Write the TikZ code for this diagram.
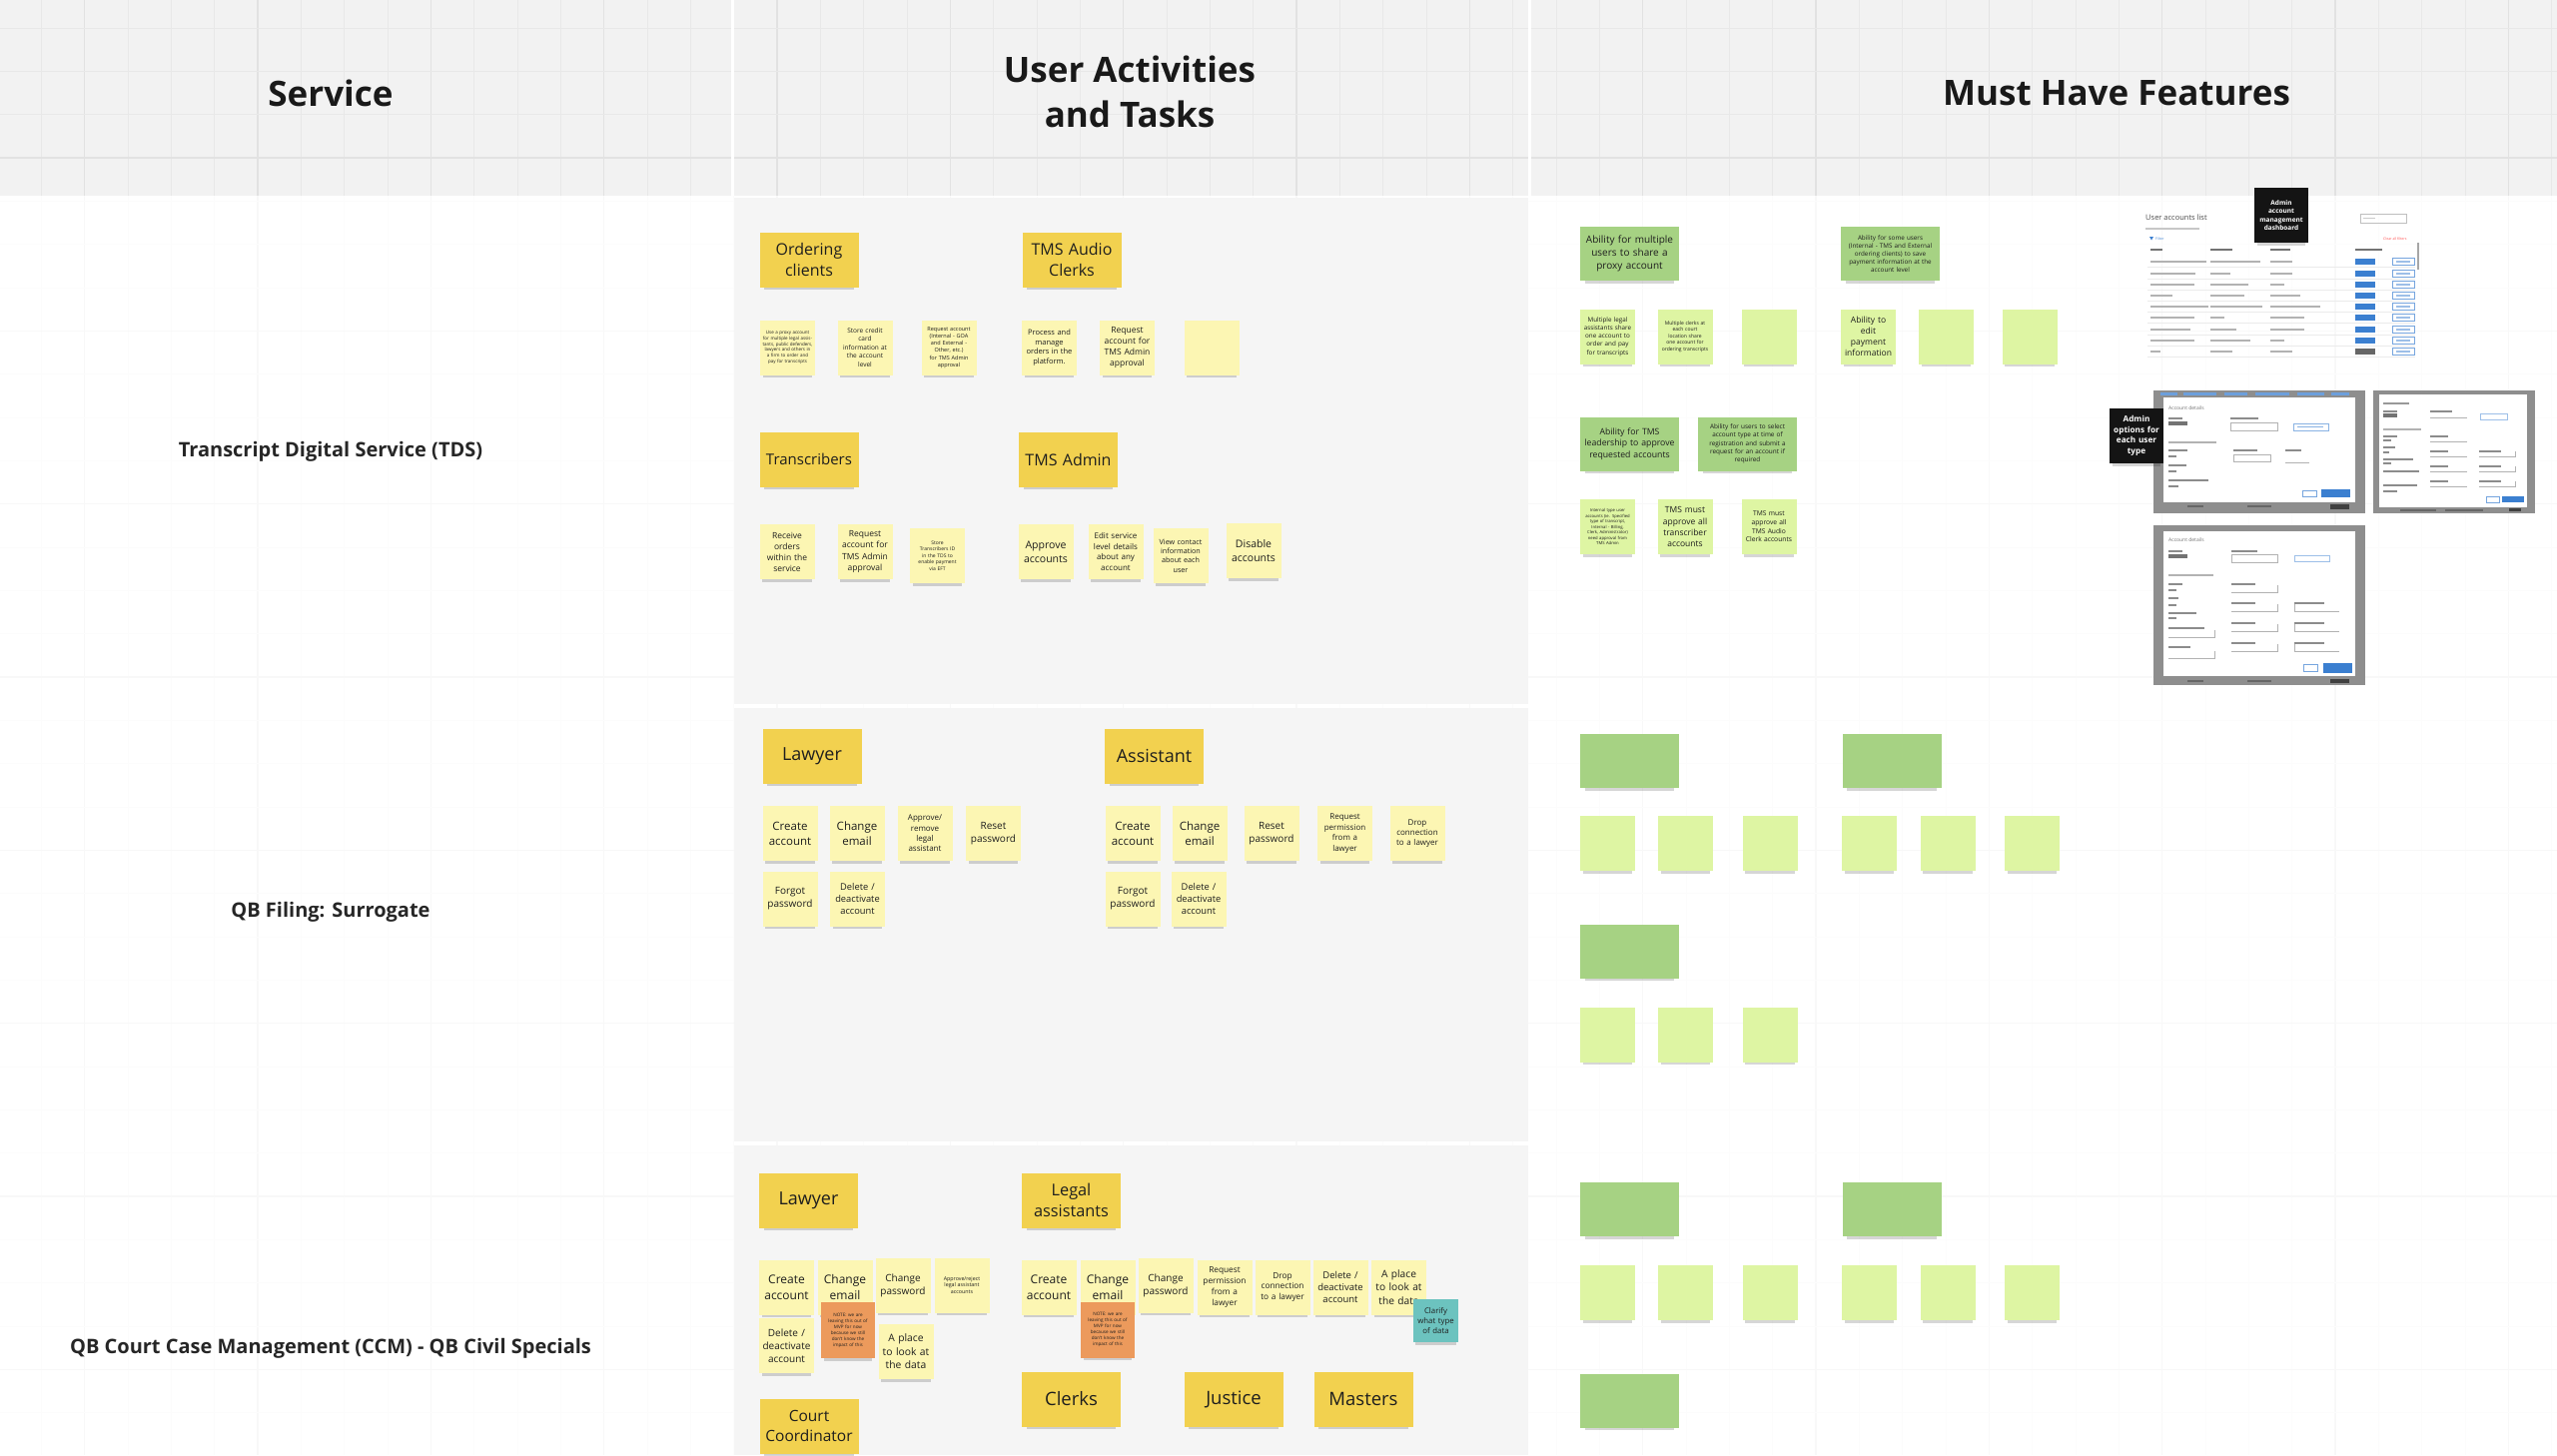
\documentclass[tikz,border=0pt]{standalone}
\usepackage{fontspec}
\setmainfont{Open Sans}
\setsansfont{Open Sans}
\usetikzlibrary{shadows}
\definecolor{roleY}{HTML}{F2D14F}
\definecolor{taskY}{HTML}{FCF6B3}
\definecolor{greenD}{HTML}{A6D283}
\definecolor{greenL}{HTML}{DEF5A3}
\definecolor{orangeN}{HTML}{EC9A5C}
\definecolor{tealN}{HTML}{6CC3BF}
\definecolor{txt}{HTML}{1E1E1E}
\definecolor{hdrbg}{HTML}{F2F2F2}
\definecolor{hdrmin}{HTML}{E8E8E8}
\definecolor{hdrmaj}{HTML}{E2E2E2}
\definecolor{colbg}{HTML}{F5F5F5}
\definecolor{bgmin}{HTML}{FCFCFC}
\definecolor{bgmaj}{HTML}{F8F8F8}
\definecolor{shotgray}{HTML}{8E8E8E}
\definecolor{btnblue}{HTML}{3B7FD0}
\definecolor{lblack}{HTML}{141414}
\newcommand\fsz[1]{\fontsize{#1}{#1}\selectfont\baselineskip=1.3\baselineskip\relax}
\begin{document}
\begin{tikzpicture}[x=1pt,y=-1pt,
  note/.style={rectangle, inner sep=1pt, align=center, text=txt,
    general shadow={shadow scale=0.9, shadow yshift=-6pt, fill=black, opacity=0.16}},
  role/.style={note, fill=roleY, minimum width=99pt, minimum height=55pt, text width=94pt},
  task/.style={note, fill=taskY, minimum width=55pt, minimum height=55pt, text width=51pt},
  gbig/.style={note, fill=greenD, minimum width=99pt, minimum height=54pt, text width=93pt},
  gsmall/.style={note, fill=greenL, minimum width=55pt, minimum height=55pt, text width=51pt},
  onote/.style={note, fill=orangeN, minimum width=54pt, minimum height=56pt, text width=50pt},
  tnote/.style={note, fill=tealN, minimum width=45pt, minimum height=43pt, text width=42pt},
  blab/.style={note, fill=lblack, text=white, minimum width=54pt, minimum height=55pt, text width=52pt},
  hdr/.style={align=center, text=black!90, font=\bfseries\fsz{35}},
  rowlab/.style={align=center, text=black!85, font=\bfseries\fsz{20}},
  shottxt/.style={anchor=west, inner sep=0pt, text=black!70}
]
\useasboundingbox (0,0) rectangle (2560,1457);
\fill[white] (0,0) rectangle (2560,1457);
% ---------- body grid ----------
\foreach \k in {0,...,59}{
  \pgfmathsetmacro\xx{-2+43.333*\k}
  \pgfmathtruncatemacro\mm{mod(\k,4)}
  \ifnum\mm=2\relax
    \draw[line width=1.2, color=bgmaj] (\xx,196) -- (\xx,1457);
  \else
    \draw[line width=0.8, color=bgmin] (\xx,196) -- (\xx,1457);
  \fi
}
\foreach \k in {1,...,30}{
  \pgfmathsetmacro\yy{158+43.333*\k}
  \pgfmathtruncatemacro\mm{mod(\k,4)}
  \ifnum\mm=0\relax
    \draw[line width=1.2, color=bgmaj] (0,\yy) -- (2560,\yy);
  \else
    \draw[line width=0.8, color=bgmin] (0,\yy) -- (2560,\yy);
  \fi
}
% ---------- column 2 frames ----------
\fill[colbg] (735,198) rectangle (1530,705);
\fill[colbg] (735,709) rectangle (1530,1143);
\fill[colbg] (735,1147) rectangle (1530,1457);
% ---------- header band ----------
\fill[hdrbg] (0,0) rectangle (2560,196);
\foreach \k in {0,...,59}{
  \pgfmathsetmacro\xx{-2+43.333*\k}
  \pgfmathtruncatemacro\mm{mod(\k,4)}
  \ifnum\mm=2\relax
    \draw[line width=1.3, color=hdrmaj] (\xx,0) -- (\xx,196);
  \else
    \draw[line width=0.9, color=hdrmin] (\xx,0) -- (\xx,196);
  \fi
}
\foreach \yy in {28,71.3,114.7} \draw[line width=0.9, color=hdrmin] (0,\yy) -- (2560,\yy);
\draw[line width=2.5, color=hdrmaj] (0,158) -- (2560,158);
\fill[white] (732,0) rectangle (735,196);
\fill[white] (1530,0) rectangle (1533,196);
% ---------- headers ----------
\node[hdr] (hService) at (331,93) {Service};
\node[hdr] (hUser) at (1131,92) {User Activities\\and Tasks};
\node[hdr] (hMust) at (2119,93) {Must Have Features};
% ---------- row labels ----------
\node[rowlab] (lTDS) at (331,452) {Transcript Digital Service (TDS)};
\node[rowlab] (lQBF) at (331,913) {QB Filing: Surrogate};
\node[rowlab] (lCCM) at (331,1350) {QB Court Case Management (CCM) - QB Civil Specials};

% ================= ROW 1 : TDS =================
\node[role, font=\fsz{16}] (oc) at (810,260) {Ordering\\clients};
\node[role, font=\fsz{16}] (tac) at (1073,260) {TMS Audio\\Clerks};
\node[task, font=\fsz{4.5}] (t11) at (788.5,348) {Use a proxy account for multiple legal assistants, public defenders, lawyers and others in a firm to order and pay for transcripts};
\node[task, font=\fsz{6.5}] (t12) at (866,348) {Store credit\\card\\information at\\the account\\level};
\node[task, font=\fsz{5.5}] (t13) at (950,348) {Request account\\(Internal - GOA\\and External -\\Other, etc.)\\for TMS Admin\\approval};
\node[task, font=\fsz{7.5}] (t14) at (1050.5,348) {Process and\\manage\\orders in the\\platform.};
\node[task, font=\fsz{8.5}] (t15) at (1128.5,348) {Request\\account for\\TMS Admin\\approval};
\node[task] (t16) at (1213,348) {};

\node[role, font=\fsz{15}] (trn) at (810,460) {Transcribers};
\node[role, font=\fsz{16}] (tadm) at (1069.5,460) {TMS Admin};
\node[task, font=\fsz{8.5}] (t21) at (788,552.5) {Receive\\orders\\within the\\service};
\node[task, font=\fsz{8.5}] (t22) at (866,552.5) {Request\\account for\\TMS Admin\\approval};
\node[task, font=\fsz{5}] (t23) at (938.5,556.5) {Store\\Transcribers ID\\in the TDS to\\enable payment\\via EFT};
\node[task, font=\fsz{10.5}] (t24) at (1047,552.5) {Approve\\accounts};
\node[task, font=\fsz{8}] (t25) at (1117,552.5) {Edit service\\level details\\about any\\account};
\node[task, font=\fsz{7.2}] (t26) at (1182,556.5) {View contact\\information\\about each\\user};
\node[task, font=\fsz{10.5}] (t27) at (1255,551.5) {Disable\\accounts};

% features row 1
\node[gbig, font=\fsz{10}] (g11) at (1631.5,254) {Ability for multiple\\users to share a\\proxy account};
\node[gbig, font=\fsz{6.3}] (g12) at (1892.5,254) {Ability for some users\\(Internal - TMS and External\\ordering clients) to save\\payment information at the\\account level};
\node[gsmall, font=\fsz{6.3}] (s11) at (1609.5,337) {Multiple legal\\assistants share\\one account to\\order and pay\\for transcripts};
\node[gsmall, font=\fsz{5}] (s12) at (1687,337) {Multiple clerks at\\each court\\location share\\one account for\\ordering transcripts};
\node[gsmall] (s13) at (1771,337) {};
\node[gsmall, font=\fsz{8.5}] (s14) at (1870.5,337) {Ability to\\edit\\payment\\information};
\node[gsmall] (s15) at (1948.5,337) {};
\node[gsmall] (s16) at (2032,337) {};
\node[gbig, font=\fsz{8.7}] (g13) at (1631.5,444.5) {Ability for TMS\\leadership to approve\\requested accounts};
\node[gbig, font=\fsz{6.4}] (g14) at (1749.5,444.5) {Ability for users to select\\account type at time of\\registration and submit a\\request for an account if\\required};
\node[gsmall, font=\fsz{4.2}] (s17) at (1609.5,527.5) {Internal type user\\accounts (ie. Specified\\type of transcript,\\Internal - Billing,\\Clerk, Administrator)\\need approval from\\TMS Admin};
\node[gsmall, font=\fsz{8.5}] (s18) at (1687,527.5) {TMS must\\approve all\\transcriber\\accounts};
\node[gsmall, font=\fsz{6.7}] (s19) at (1771,527.5) {TMS must\\approve all\\TMS Audio\\Clerk accounts};

% ---------- screenshot A : user accounts list ----------
\node[shottxt, font=\fsz{7.5}] (shA) at (2148,218) {User accounts list};
\fill[black!22] (2148,228) rectangle ++(54,1.5);
\fill[btnblue] (2152,237) -- (2156,237) -- (2154,240.5) -- cycle;
\node[shottxt, font=\fsz{3.5}, text=btnblue] (shAf) at (2158,239) {Filter};
\node[shottxt, font=\fsz{3.5}, text=red!70] (shAc) at (2386,239) {Clear all filters};
\draw[black!25, line width=0.6] (2363,214) rectangle (2409,223);
\fill[black!20] (2366,218) rectangle ++(12,1.2);
\fill[black!55] (2153,249) rectangle ++(12,2.2);
\fill[black!55] (2213,249) rectangle ++(22,2.2);
\fill[black!55] (2273,249) rectangle ++(20,2.2);
\fill[black!55] (2358,249) rectangle ++(27,2.2);
\foreach \yy/\wa/\wb/\wc in {262/56/50/22, 274/45/20/22, 285/44/38/14, 296/22/34/30, 307/58/52/50, 318/44/14/34, 330/40/26/34, 341/44/40/14, 352/10/22/22}{
  \fill[black!30] (2153,\yy-1) rectangle ++(\wa,2);
  \fill[black!30] (2213,\yy-1) rectangle ++(\wb,2);
  \fill[black!30] (2273,\yy-1) rectangle ++(\wc,2);
  \fill[btnblue] (2358,\yy-3) rectangle (2378,\yy+3);
  \draw[btnblue!70, line width=0.6] (2395,\yy-3.5) rectangle (2417,\yy+3.5);
  \fill[btnblue!50] (2399,\yy-0.6) rectangle (2413,\yy+0.6);
  \draw[black!8, line width=0.5] (2150,\yy+5.5) -- (2418,\yy+5.5);
}
\fill[black!60] (2358,349) rectangle (2378,355);
\fill[black!35] (2419.5,243) rectangle (2421.5,270);
\node[blab, font=\bfseries\fsz{6.5}] (labA) at (2284,215.5) {Admin\\account\\management\\dashboard};

% ---------- screenshot B ----------
\fill[shotgray] (2156,391) rectangle (2368,514);
\foreach \xa/\xb in {2163/2180, 2186/2219, 2227/2250, 2258/2292, 2300/2327, 2334/2352}
  \fill[btnblue!75] (\xa,393.3) rectangle (\xb,395.5);
\fill[white] (2166,398) rectangle (2358,503);
\node[shottxt, font=\fsz{5}, text=black!55] (shB) at (2171,409) {Account details};
\fill[black!45] (2171,418) rectangle ++(14,1.5);
\fill[black!55] (2171,422) rectangle ++(19,4);
\fill[black!45] (2233,418) rectangle ++(28,1.5);
\draw[black!30, line width=0.5] (2233,423) rectangle (2280,431);
\draw[btnblue!60, line width=0.5] (2296,424) rectangle (2331,431);
\fill[btnblue!60] (2300,427) rectangle ++(26,1.2);
\fill[black!30] (2171,442) rectangle ++(48,1.5);
\foreach \yy/\ww in {450/19, 456/8, 465/18, 471/8, 480/40, 486/10}
  \fill[black!45] (2171,\yy) rectangle ++(\ww,1.5);
\fill[black!45] (2236,450) rectangle ++(24,1.5);
\draw[black!30, line width=0.5] (2236,455) rectangle (2273,462);
\fill[black!45] (2288,450) rectangle ++(16,1.5);
\draw[black!30, line width=0.5] (2288,463) -- (2312,463);
\draw[btnblue!70, line width=0.5] (2305,491) rectangle (2319,497);
\fill[btnblue] (2324,490) rectangle (2353,498);
\fill[black!75] (2333,505) rectangle (2352,510);
\fill[black!60] (2190,506) rectangle ++(16,1.5);
\fill[black!60] (2250,506) rectangle ++(24,1.5);
\node[blab, font=\bfseries\fsz{8.2}] (labB) at (2139,436.5) {Admin\\options for\\each user\\type};

% ---------- screenshot C ----------
\fill[shotgray] (2376,391) rectangle (2538,514);
\fill[white] (2382,395) rectangle (2530,508);
\fill[black!40] (2386,403) rectangle ++(26,1.5);
\fill[black!45] (2386,411) rectangle ++(14,1.5);
\fill[black!55] (2386,414) rectangle ++(14,4);
\fill[black!45] (2433,411) rectangle ++(22,1.5);
\draw[black!30, line width=0.5] (2433,418) -- (2470,418);
\draw[btnblue!50, line width=0.5] (2483,414) rectangle (2510,420);
\fill[black!30] (2386,429) rectangle ++(38,1.5);
\foreach \yy/\ww in {436/14, 440/8, 447/12, 452/6, 459/30, 463/8, 471/36, 485/34, 491/14}
  \fill[black!45] (2386,\yy) rectangle ++(\ww,1.5);
\foreach \yy in {436,451,466,481}{
  \fill[black!45] (2433,\yy) rectangle ++(18,1.5);
  \draw[black!30, line width=0.5] (2433,\yy+6) -- (2470,\yy+6);
}
\foreach \yy in {451,466,481}{
  \fill[black!45] (2482,\yy) rectangle ++(22,1.5);
  \draw[black!30, line width=0.5] (2482,\yy+6) -- (2518,\yy+6) -- (2518,\yy+1);
}
\draw[btnblue!70, line width=0.5] (2489,497) rectangle (2502,503);
\fill[btnblue] (2505,497) rectangle (2527,503);
\fill[black!60] (2403,510) rectangle ++(36,1.5);
\fill[black!60] (2448,510) rectangle ++(38,1.5);
\fill[black!75] (2512,509) rectangle ++(12,3);

% ---------- screenshot D ----------
\fill[shotgray] (2156,526) rectangle (2368,686);
\fill[white] (2166,532) rectangle (2358,677);
\node[shottxt, font=\fsz{5}, text=black!55] (shD) at (2171,541) {Account details};
\fill[black!45] (2171,551) rectangle ++(14,1.5);
\fill[black!55] (2171,555) rectangle ++(19,4);
\fill[black!45] (2234,551) rectangle ++(26,1.5);
\draw[black!30, line width=0.5] (2234,555) rectangle (2280,563);
\draw[btnblue!50, line width=0.5] (2297,556) rectangle (2332,562);
\fill[black!30] (2171,575) rectangle ++(45,1.5);
\foreach \yy/\ww in {584/14, 590/8, 598/10, 605/8, 613/28, 618/8, 628/36, 647/22}
  \fill[black!45] (2171,\yy) rectangle ++(\ww,1.5);
\draw[black!30, line width=0.5] (2171,638) -- (2217,638) -- (2217,631);
\draw[black!30, line width=0.5] (2171,659) -- (2217,659) -- (2217,652);
\foreach \yy in {584,603,623,643}{
  \fill[black!45] (2234,\yy) rectangle ++(24,1.5);
  \draw[black!30, line width=0.5] (2234,\yy+9) -- (2280,\yy+9) -- (2280,\yy+2);
}
\foreach \yy in {603,623,643}{
  \fill[black!45] (2297,\yy) rectangle ++(30,1.5);
  \draw[black!30, line width=0.5] (2297,\yy+9) -- (2342,\yy+9);
  \draw[black!30, line width=0.5] (2297,\yy+9) -- (2297,\yy+2);
}
\draw[btnblue!70, line width=0.5] (2306,665) rectangle (2320,672);
\fill[btnblue] (2326,664) rectangle (2355,674);
\fill[black!75] (2333,680) rectangle (2352,684);
\fill[black!60] (2190,681) rectangle ++(16,1.5);
\fill[black!60] (2250,681) rectangle ++(24,1.5);

% ================= ROW 2 : QB Filing =================
\node[role, font=\fsz{18}] (lw2) at (813,757) {Lawyer};
\node[role, font=\fsz{18}] (as2) at (1155.5,757) {Assistant};
\node[task, font=\fsz{11.5}] (a1) at (791,834.5) {Create\\account};
\node[task, font=\fsz{11.5}] (a2) at (858,834.5) {Change\\email};
\node[task, font=\fsz{8}] (a3) at (926,834.5) {Approve/\\remove\\legal\\assistant};
\node[task, font=\fsz{10}] (a4) at (994.5,834.5) {Reset\\password};
\node[task, font=\fsz{10}] (a5) at (791,900) {Forgot\\password};
\node[task, font=\fsz{9.3}] (a6) at (858.5,900) {Delete /\\deactivate\\account};
\node[task, font=\fsz{11.5}] (b1) at (1134,834.5) {Create\\account};
\node[task, font=\fsz{11.5}] (b2) at (1201,834.5) {Change\\email};
\node[task, font=\fsz{10}] (b3) at (1273,834.5) {Reset\\password};
\node[task, font=\fsz{8}] (b4) at (1346.5,834.5) {Request\\permission\\from a\\lawyer};
\node[task, font=\fsz{8}] (b5) at (1419,834.5) {Drop\\connection\\to a lawyer};
\node[task, font=\fsz{10}] (b6) at (1134,900) {Forgot\\password};
\node[task, font=\fsz{9.3}] (b7) at (1200,900) {Delete /\\deactivate\\account};

\node[gbig] (g21) at (1631.5,762) {};
\node[gbig] (g22) at (1894,762) {};
\node[gsmall] (s21) at (1609.5,844.5) {};
\node[gsmall] (s22) at (1687.5,844.5) {};
\node[gsmall] (s23) at (1772,844.5) {};
\node[gsmall] (s24) at (1871.5,844.5) {};
\node[gsmall] (s25) at (1950,844.5) {};
\node[gsmall] (s26) at (2034.5,844.5) {};
\node[gbig] (g23) at (1631.5,952.5) {};
\node[gsmall] (s27) at (1609.5,1036) {};
\node[gsmall] (s28) at (1687.5,1036) {};
\node[gsmall] (s29) at (1772,1036) {};

% ================= ROW 3 : CCM =================
\node[role, font=\fsz{18}] (lw3) at (809.5,1202) {Lawyer};
\node[role, font=\fsz{16.3}] (la3) at (1072.5,1202) {Legal\\assistants};
\node[task, font=\fsz{12}] (c1) at (787.5,1289) {Create\\account};
\node[task, font=\fsz{12}] (c2) at (846,1289) {Change\\email};
\node[task, font=\fsz{10}] (c3) at (904,1287) {Change\\password};
\node[task, font=\fsz{5.3}] (c4) at (963,1287) {Approve/reject\\legal assistant\\accounts};
\node[onote, font=\fsz{4.6}] (o1) at (849,1332) {NOTE: we are\\leaving this out of\\MVP for now\\because we still\\don't know the\\impact of this};
\node[task, font=\fsz{10}] (c5) at (787.5,1347.5) {Delete /\\deactivate\\account};
\node[task, font=\fsz{10.3}] (c6) at (907,1353.5) {A place\\to look at\\the data};
\node[role, font=\fsz{15.5}] (cc3) at (810,1428) {Court\\Coordinator};

\node[task, font=\fsz{12}] (d1) at (1050,1289) {Create\\account};
\node[task, font=\fsz{12}] (d2) at (1109,1289) {Change\\email};
\node[onote, font=\fsz{4.6}] (o2) at (1109,1331.5) {NOTE: we are\\leaving this out of\\MVP for now\\because we still\\don't know the\\impact of this};
\node[task, font=\fsz{10}] (d3) at (1167,1287) {Change\\password};
\node[task, font=\fsz{8.3}] (d4) at (1226,1289) {Request\\permission\\from a\\lawyer};
\node[task, font=\fsz{8.3}] (d5) at (1284,1289) {Drop\\connection\\to a lawyer};
\node[task, font=\fsz{9.5}] (d6) at (1342,1289) {Delete /\\deactivate\\account};
\node[task, font=\fsz{10.2}] (d7) at (1400.5,1289) {A place\\to look at\\the data};
\node[tnote, font=\fsz{7.8}] (tl1) at (1437.5,1322.5) {Clarify\\what type\\of data};
\node[role, font=\fsz{18.5}] (ck3) at (1072.5,1401) {Clerks};
\node[role, font=\fsz{18.5}] (js3) at (1235,1401) {Justice};
\node[role, font=\fsz{18.5}] (ms3) at (1365,1401) {Masters};

\node[gbig] (g31) at (1631.5,1211) {};
\node[gbig] (g32) at (1894,1211) {};
\node[gsmall] (s31) at (1609.5,1294.5) {};
\node[gsmall] (s32) at (1687.5,1294.5) {};
\node[gsmall] (s33) at (1772,1294.5) {};
\node[gsmall] (s34) at (1871.5,1294.5) {};
\node[gsmall] (s35) at (1950,1294.5) {};
\node[gsmall] (s36) at (2034.5,1294.5) {};
\node[gbig] (g33) at (1631.5,1402.5) {};
\end{tikzpicture}
\end{document}
